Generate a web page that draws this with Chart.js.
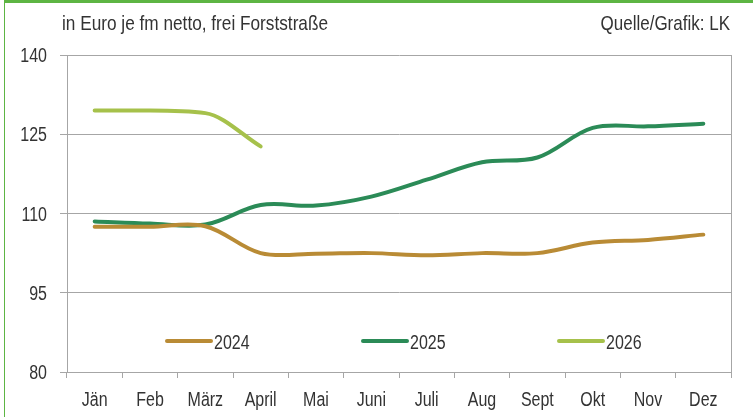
<!DOCTYPE html>
<html>
<head>
<meta charset="utf-8">
<script src="https://cdn.jsdelivr.net/npm/chart.js@4.4.1/dist/chart.umd.min.js"></script>
<style>
    html, body { margin: 0; padding: 0; background: #fff; }
    #wrap { position: relative; width: 753px; height: 417px; }
    #wrap .edge-top { position: absolute; left: 4px; top: 0; width: 749px; height: 3px; background: #5db543; }
    #wrap .edge-left { position: absolute; left: 4px; top: 0; width: 1px; height: 417px; background: #5db543; }
</style>
</head>
<body>
<div id="wrap">
    <canvas id="holzpreis" width="753" height="417"></canvas>
    <div class="edge-top"></div>
    <div class="edge-left"></div>
</div>
<script>
var months = ["Jän", "Feb", "März", "April", "Mai", "Juni", "Juli", "Aug", "Sept", "Okt", "Nov", "Dez"];
var years = ["2024", "2025", "2026"];
var price2024 = [107.5, 107.5, 107.6, 102.5, 102.4, 102.5, 102.1, 102.5, 102.5, 104.5, 105.0, 106.0];
var price2025 = [108.5, 108.1, 107.9, 111.6, 111.5, 113.2, 116.4, 119.7, 120.6, 126.2, 126.5, 127.0];
var price2026 = [129.5, 129.5, 129.0, 122.7, null, null, null, null, null, null, null, null];
var yTicks = [80, 95, 110, 125, 140];

var colors = ['#b98b35', '#2b8b57', '#a6c14b'];
var fontFamily = '"Liberation Sans", Arial, sans-serif';
var textColor = '#333333';
var gridColor = '#a6a6a6';
var squeeze = 0.8; // the original uses a condensed face

function narrowText(ctx, text, x, y, align, sx) {
    ctx.save();
    ctx.translate(x, y);
    ctx.scale(sx || squeeze, 1);
    ctx.textAlign = align;
    ctx.fillText(text, 0, 0);
    ctx.restore();
}

// title, source, tick labels and the legend inside the plot box
var extras = {
    id: 'extras',
    afterDatasetsDraw: function(chart) {
        var ctx = chart.ctx;
        var area = chart.chartArea;
        var xs = chart.scales.x;
        var ys = chart.scales.y;
        ctx.save();

        // right border of the plot box
        ctx.strokeStyle = gridColor;
        ctx.lineWidth = 1;
        ctx.beginPath();
        ctx.moveTo(area.right + 0.5, area.top);
        ctx.lineTo(area.right + 0.5, area.bottom + 6);
        ctx.stroke();

        ctx.fillStyle = textColor;
        ctx.textBaseline = 'alphabetic';
        ctx.font = '21px ' + fontFamily;
        narrowText(ctx, 'in Euro je fm netto, frei Forststraße', 62, 30, 'left', 0.82);
        narrowText(ctx, 'Quelle/Grafik: LK', 730, 30, 'right', 0.81);

        ctx.font = '20px ' + fontFamily;
        months.forEach(function(m, i) {
            narrowText(ctx, m, xs.getPixelForValue(i), 406, 'center');
        });
        yTicks.forEach(function(v) {
            narrowText(ctx, String(v), 47, ys.getPixelForValue(v) + 7, 'right');
        });

        var legendY = 341;
        var center = (area.left + area.right) / 2 + 5;
        chart.data.datasets.forEach(function(ds, i) {
            var cx = center + (i - 1) * 196;
            var x0 = cx - 41;
            ctx.strokeStyle = ds.borderColor;
            ctx.lineWidth = 4;
            ctx.lineCap = 'round';
            ctx.beginPath();
            ctx.moveTo(x0, legendY);
            ctx.lineTo(x0 + 44, legendY);
            ctx.stroke();
            ctx.fillStyle = textColor;
            narrowText(ctx, ds.label, x0 + 47, legendY + 7.5, 'left');
        });
        ctx.restore();
    }
};

var ctx = document.getElementById('holzpreis').getContext('2d');
var chart = new Chart(ctx, {
    type: 'line',
    data: {
        labels: months,
        datasets: [
            { label: years[0], data: price2024, borderColor: colors[0], backgroundColor: colors[0], tension: 0.35 },
            { label: years[1], data: price2025, borderColor: colors[1], backgroundColor: colors[1], tension: 0.35 },
            // short series: monotone keeps the flat start from bulging
            { label: years[2], data: price2026, borderColor: colors[2], backgroundColor: colors[2], cubicInterpolationMode: 'monotone' }
        ].map(function(ds) {
            ds.borderWidth = 4;
            ds.pointRadius = 0;
            ds.fill = false;
            ds.spanGaps = false;
            ds.borderCapStyle = 'round';
            return ds;
        })
    },
    options: {
        responsive: false,
        animation: false,
        layout: { padding: { left: 0, right: 22, top: 55, bottom: 0 } },
        plugins: {
            legend: { display: false },
            tooltip: { enabled: false }
        },
        scales: {
            x: {
                offset: true,
                grid: {
                    offset: true,
                    drawOnChartArea: false,
                    drawTicks: true,
                    tickLength: 6,
                    color: gridColor
                },
                border: { color: gridColor },
                ticks: { display: false, autoSkip: false },
                afterFit: function(scale) { scale.height = 45; }
            },
            y: {
                min: 80,
                max: 140,
                afterBuildTicks: function(scale) {
                    scale.ticks = yTicks.map(function(v) { return { value: v }; });
                },
                grid: {
                    color: gridColor,
                    tickLength: 7
                },
                border: { color: gridColor },
                ticks: { display: false },
                afterFit: function(scale) { scale.width = 67; }
            }
        }
    },
    plugins: [extras]
});
</script>
</body>
</html>
